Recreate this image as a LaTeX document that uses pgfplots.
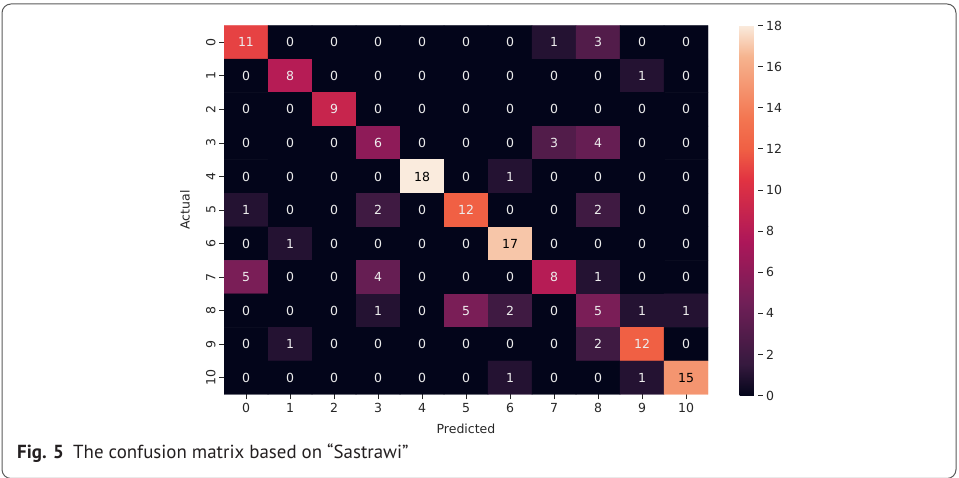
\documentclass[border=0pt]{standalone}
\usepackage{pgfplots}
\pgfplotsset{compat=1.18}
\usepackage{pgfplotstable}
\usepackage{fontspec}
\setmainfont{DejaVu Sans}
\newfontfamily\capfont{PT Sans}
\definecolor{tickgray}{HTML}{262626}
\definecolor{framegray}{HTML}{5A5A5A}
\definecolor{captext}{HTML}{231F20}
\pgfplotstableread{
x y c
0 0 11
1 0 0
2 0 0
3 0 0
4 0 0
5 0 0
6 0 0
7 0 1
8 0 3
9 0 0
10 0 0
0 1 0
1 1 8
2 1 0
3 1 0
4 1 0
5 1 0
6 1 0
7 1 0
8 1 0
9 1 1
10 1 0
0 2 0
1 2 0
2 2 9
3 2 0
4 2 0
5 2 0
6 2 0
7 2 0
8 2 0
9 2 0
10 2 0
0 3 0
1 3 0
2 3 0
3 3 6
4 3 0
5 3 0
6 3 0
7 3 3
8 3 4
9 3 0
10 3 0
0 4 0
1 4 0
2 4 0
3 4 0
4 4 18
5 4 0
6 4 1
7 4 0
8 4 0
9 4 0
10 4 0
0 5 1
1 5 0
2 5 0
3 5 2
4 5 0
5 5 12
6 5 0
7 5 0
8 5 2
9 5 0
10 5 0
0 6 0
1 6 1
2 6 0
3 6 0
4 6 0
5 6 0
6 6 17
7 6 0
8 6 0
9 6 0
10 6 0
0 7 5
1 7 0
2 7 0
3 7 4
4 7 0
5 7 0
6 7 0
7 7 8
8 7 1
9 7 0
10 7 0
0 8 0
1 8 0
2 8 0
3 8 1
4 8 0
5 8 5
6 8 2
7 8 0
8 8 5
9 8 1
10 8 1
0 9 0
1 9 1
2 9 0
3 9 0
4 9 0
5 9 0
6 9 0
7 9 0
8 9 2
9 9 12
10 9 0
0 10 0
1 10 0
2 10 0
3 10 0
4 10 0
5 10 0
6 10 1
7 10 0
8 10 0
9 10 1
10 10 15
}\cm
\newcommand\cellnum{%
  \pgfmathfloattofixed{\pgfplotspointmeta}%
  \ifdim\pgfmathresult pt>13.5pt\color{black}\else\color{white!93!black}\fi
  \pgfmathprintnumber{\pgfplotspointmeta}}
\begin{document}
\begin{tikzpicture}
\useasboundingbox (0,0) rectangle (959pt,478pt);
\draw[framegray, line width=1pt, rounded corners=9pt] (2pt,-0.5pt) rectangle (956pt,474pt);
\begin{axis}[
  at={(224pt,83.5pt)}, anchor=south west,
  scale only axis, width=484pt, height=369pt,
  xmin=-0.5, xmax=10.5, ymin=-0.5, ymax=10.5,
  y dir=reverse,
  xtick={0,...,10}, ytick={0,...,10},
  axis line style={draw=none},
  tick align=outside, major tick length=5pt,
  tick style={tickgray, line width=0.8pt},
  xtick pos=bottom, ytick pos=left,
  /pgf/number format/assume math mode=true,
  ticklabel style={font=\fontsize{12.5}{15}\selectfont, text=tickgray},
  yticklabel style={rotate=90, anchor=south},
  xlabel={Predicted}, ylabel={Actual},
  label style={font=\fontsize{12.5}{15}\selectfont, text=tickgray},
  xlabel style={yshift=-5pt},
  ylabel style={at={(axis description cs:-0.0806,0.5)}, anchor=center},
  colormap={rocket}{rgb255(0)=(3,5,26) rgb255(2)=(53,25,62) rgb255(6)=(112,31,87) rgb255(10)=(173,23,89) rgb255(14)=(225,51,66) rgb255(16)=(240,96,68) rgb255(18)=(243,118,81) rgb255(22)=(246,180,143) rgb255(24)=(250,235,221)},
  point meta min=0, point meta max=18,
  colorbar,
  colorbar style={
    at={(parent axis.north east)}, anchor=north west, xshift=23pt,
    scale only axis, width=18pt, height=370pt,
    ytick={0,2,...,18}, yticklabel pos=right, ytick pos=right,
    axis line style={draw=none},
    tick align=outside, major tick length=5pt,
    tick style={tickgray, line width=0.8pt},
    /pgf/number format/assume math mode=true,
    yticklabel style={font=\fontsize{12.5}{15}\selectfont, text=tickgray, rotate=0, anchor=west},
  },
]
\addplot[matrix plot*, mesh/cols=11, point meta=explicit,
  nodes near coords={\cellnum}, nodes near coords align=center,
  every node near coord/.append style={font=\fontsize{12.5}{15}\selectfont, anchor=center}]
  table[x=x, y=y, meta=c] {\cm};
\end{axis}
\node[anchor=base west, inner sep=0, text=captext] at (17pt,19pt) {\capfont\fontsize{18.9}{22}\selectfont\textbf{Fig. 5}\hspace{0.5em}The confusion matrix based on “Sastrawi”};
\end{tikzpicture}
\end{document}
